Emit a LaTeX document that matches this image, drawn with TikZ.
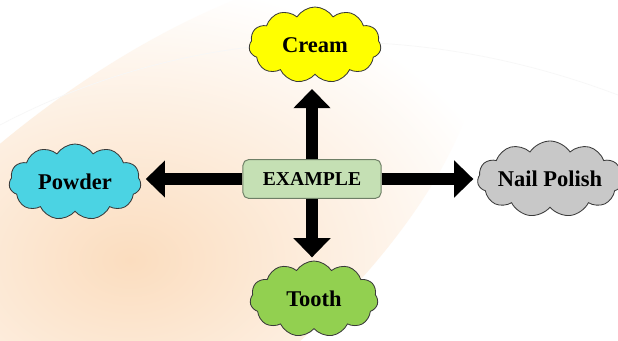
\documentclass[tikz,border=0pt]{standalone}
\usepackage{fontspec}
\setmainfont{Liberation Serif}
\usetikzlibrary{arrows.meta, positioning, shapes.symbols}
\definecolor{creamyel}{HTML}{FFFF00}
\definecolor{powdcyan}{HTML}{4BD3E3}
\definecolor{nailgray}{HTML}{C8C8C8}
\definecolor{toothgrn}{HTML}{92D050}
\definecolor{boxgrn}{HTML}{C5E0B4}
\definecolor{boxedge}{HTML}{6E7F66}
\definecolor{cloudedge}{HTML}{3A3A3A}
\definecolor{peach}{HTML}{FBDDBF}

\tikzset{
  puff/.style={cloud, cloud puffs=11, cloud puff arc=115, cloud ignores aspect,
    draw=cloudedge, line width=0.6pt, inner sep=0pt,
    minimum width=3.3cm, minimum height=1.9cm,
    font=\fontsize{16}{18}\selectfont\bfseries},
  fat/.style={line width=8.5pt, -{Triangle[length=0.48cm, width=0.9cm]}},
}

\begin{document}
\begin{tikzpicture}[x=0.025cm, y=-0.025cm]

% Background
\useasboundingbox (0,0) rectangle (618,341);
\fill[white] (0,0) rectangle (618,341);
\begin{scope}
  \clip (0,0) rectangle (618,341);
  \shade[inner color=peach, outer color=white, rotate around={38:(130,260)}]
    (130,260) ellipse [x radius=10.5cm, y radius=4.3cm];
  \draw[gray!6, line width=0.5pt] (0,125) .. controls (200,20) and (420,20) .. (618,95);
\end{scope}

% === Centre box ===
\node[fill=boxgrn, draw=boxedge, line width=0.7pt, rounded corners=4pt,
  minimum width=3.45cm, minimum height=0.97cm,
  font=\fontsize{14}{16}\selectfont\bfseries] (ex) at (312,179) {EXAMPLE};

% === Clouds ===
\node[puff, fill=creamyel] (cream) at (315,45) {Cream};
\node[puff, fill=powdcyan] (powder) at (75,182) {Powder};
\node[puff, fill=nailgray, minimum width=3.5cm] (nail) at (550,179) {Nail Polish};
\node[puff, fill=toothgrn, minimum width=3.2cm] (tooth) at (314,299) {Tooth};

% === Arrows ===
\draw[fat, shorten >=0.35cm] (ex.north) -- (ex.north |- cream.south);
\draw[fat, shorten >=0.12cm] (ex.west) -- (powder.east |- ex.west);
\draw[fat, shorten >=0.1cm] (ex.east) -- (ex.east -| nail.west);
\draw[fat, shorten >=0.08cm] (ex.south) -- (ex.south |- tooth.north);

\end{tikzpicture}
\end{document}
